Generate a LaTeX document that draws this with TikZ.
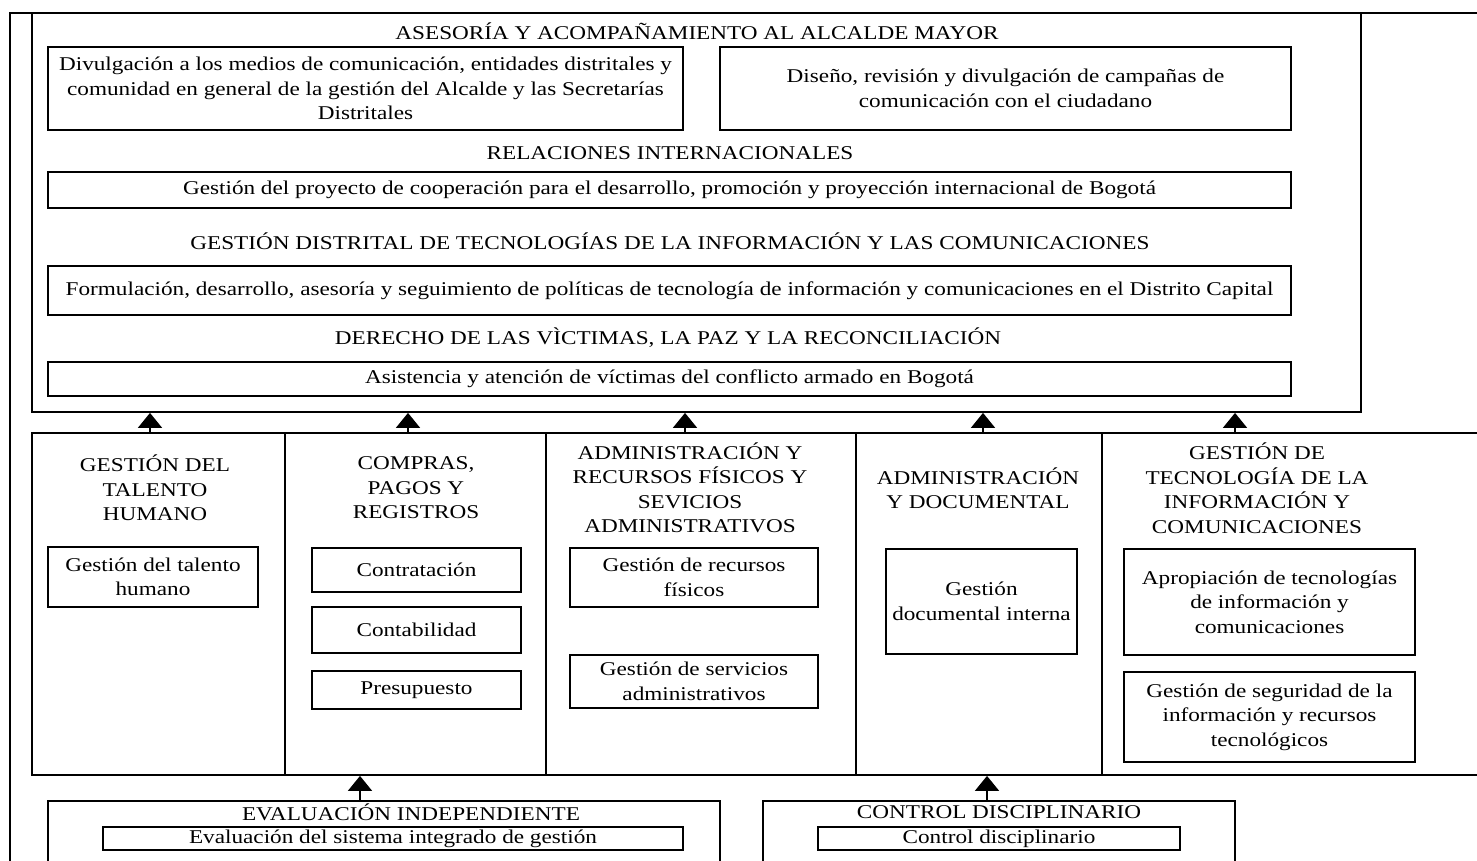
\documentclass[tikz,border=0pt]{standalone}
\usepackage{fontspec}
\setmainfont{Liberation Serif}[FakeStretch=1.19]
\usetikzlibrary{arrows.meta}

\begin{document}
\begin{tikzpicture}[x=1pt, y=-1pt, node distance={60pt}, line width=1.8pt,
    font=\fontsize{19.5}{24.5}\selectfont,
    main/.style = {draw, rectangle, inner sep=0pt, align=center},
    head/.style = {inner sep=0pt, align=center},
    up/.style = {-{Triangle[width=24pt, length=15pt]}}]
    \clip (0,0) rectangle (1477,860);
    \draw (10,900) -- (10,13) -- (1500,13);

    \node[main, minimum width=1329pt, minimum height=399pt] (1) at (696.5,212.5) {};
    \node[head] (2) at (697,31) {ASESORÍA Y ACOMPAÑAMIENTO AL ALCALDE MAYOR};
    \node[main, minimum width=635pt, minimum height=83pt] (3) at (365.5,88.5) {Divulgación a los medios de comunicación, entidades distritales y\\comunidad en general de la gestión del Alcalde y las Secretarías\\Distritales};
    \node[main, minimum width=571pt, minimum height=83pt] (4) at (1005.5,88.5) {Diseño, revisión y divulgación de campañas de\\comunicación con el ciudadano};
    \node[head] (5) at (670,153) {RELACIONES INTERNACIONALES};
    \node[main, minimum width=1243pt, minimum height=36pt] (6) at (669.5,190) {Gestión del proyecto de cooperación para el desarrollo, promoción y proyección internacional de Bogotá};
    \node[head] (7) at (670,241) {GESTIÓN DISTRITAL DE TECNOLOGÍAS DE LA INFORMACIÓN Y LAS COMUNICACIONES};
    \node[main, minimum width=1243pt, minimum height=49pt] (8) at (669.5,290.5) {Formulación, desarrollo, asesoría y seguimiento de políticas de tecnología de información y comunicaciones en el Distrito Capital};
    \node[head] (9) at (668,338) {DERECHO DE LAS VÌCTIMAS, LA PAZ Y LA RECONCILIACIÓN};
    \node[main, minimum width=1243pt, minimum height=34pt] (10) at (669.5,379) {Asistencia y atención de víctimas del conflicto armado en Bogotá};

    \node[main, minimum width=253pt, minimum height=342pt] (11) at (158.5,604) {};
    \node[main, minimum width=261pt, minimum height=342pt] (12) at (415.5,604) {};
    \node[main, minimum width=310pt, minimum height=342pt] (13) at (701,604) {};
    \node[main, minimum width=246pt, minimum height=342pt] (14) at (979,604) {};
    \node[main, minimum width=398pt, minimum height=342pt] (15) at (1301,604) {};

    \node[head] (16) at (155,488) {GESTIÓN DEL\\TALENTO\\HUMANO};
    \node[head] (17) at (416,488) {COMPRAS,\\PAGOS Y\\REGISTROS};
    \node[head] (18) at (690,488) {ADMINISTRACIÓN Y\\RECURSOS FÍSICOS Y\\SEVICIOS\\ADMINISTRATIVOS};
    \node[head] (19) at (978,488) {ADMINISTRACIÓN\\Y DOCUMENTAL};
    \node[head] (20) at (1257,488) {GESTIÓN DE\\TECNOLOGÍA DE LA\\INFORMACIÓN Y\\COMUNICACIONES};

    \node[main, minimum width=210pt, minimum height=60pt] (21) at (153,577) {Gestión del talento\\humano};
    \node[main, minimum width=209pt, minimum height=44pt] (22) at (416.5,570) {Contratación};
    \node[main, minimum width=209pt, minimum height=46pt] (23) [below of=22] {Contabilidad};
    \node[main, minimum width=209pt, minimum height=38pt] (24) [below of=23] {Presupuesto};
    \node[main, minimum width=248pt, minimum height=59pt] (25) at (694,577.5) {Gestión de recursos\\físicos};
    \node[main, minimum width=248pt, minimum height=53pt] (26) [below of=25, node distance={104pt}] {Gestión de servicios\\administrativos};
    \node[main, minimum width=191pt, minimum height=105pt] (27) at (981.5,601.5) {Gestión\\documental interna};
    \node[main, minimum width=291pt, minimum height=106pt] (28) at (1269.5,602) {Apropiación de tecnologías\\de información y\\comunicaciones};
    \node[main, minimum width=291pt, minimum height=90pt] (29) [below of=28, node distance={115pt}] {Gestión de seguridad de la\\información y recursos\\tecnológicos};

    \node[main, minimum width=672pt, minimum height=99pt] (30) at (384,850.5) {};
    \node[head] (31) at (411,812) {EVALUACIÓN INDEPENDIENTE};
    \node[main, minimum width=580pt, minimum height=23pt] (32) at (393,838.5) {Evaluación del sistema integrado de gestión};
    \node[main, minimum width=472pt, minimum height=99pt] (33) at (999,850.5) {};
    \node[head] (34) at (999,812) {CONTROL DISCIPLINARIO};
    \node[main, minimum width=362pt, minimum height=23pt] (35) at (999,838.5) {Control disciplinario};

    \foreach \c/\x in {11/150, 12/408, 13/685, 14/983, 15/1235}
        \draw[up] (\x,0 |- \c.north) -- (\x,0 |- 1.south);
    \draw[up] (360,0 |- 30.north) -- (360,0 |- 11.south);
    \draw[up] (987,0 |- 33.north) -- (987,0 |- 14.south);
\end{tikzpicture}
\end{document}
